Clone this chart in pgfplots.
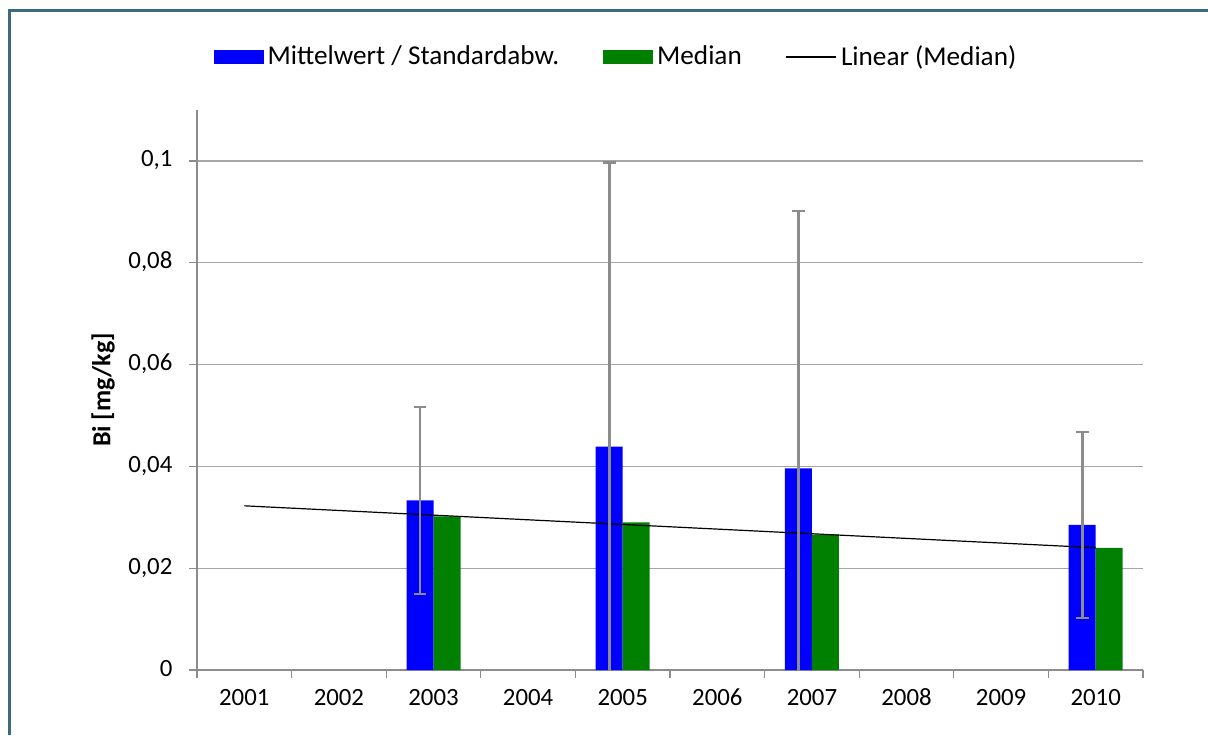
\documentclass[border=0pt]{standalone}
\usepackage{fontspec}
\setmainfont{Carlito}
\usepackage{pgfplots}
\pgfplotsset{compat=1.18}
\definecolor{framec}{HTML}{3D6A7F}
\definecolor{gridc}{HTML}{A6A6A6}
\definecolor{errc}{HTML}{8C8C8C}
\definecolor{axc}{HTML}{8C8C8C}
\definecolor{barblue}{HTML}{0000FF}
\definecolor{bargreen}{HTML}{008000}
\begin{document}
\fontsize{12.4}{15}\selectfont
\begin{tikzpicture}
\useasboundingbox (0,0) rectangle (604pt,367.5pt);
\fill[white] (0,0) rectangle (604pt,367.5pt);
\draw[framec, line width=1.5pt] (4.5pt,0) -- (4.5pt,362pt) -- (604pt,362pt);
\begin{axis}[
  at={(98.5pt,32.5pt)}, anchor=south west,
  scale only axis, width=473pt, height=280pt,
  xmin=-0.5, xmax=9.5, ymin=0, ymax=0.11,
  axis x line*=bottom, axis y line*=left,
  axis line style={axc, line width=0.6pt},
  tick align=outside, major tick length=4pt,
  tick style={axc, line width=0.6pt},
  xtick={-0.5,0.5,1.5,2.5,3.5,4.5,5.5,6.5,7.5,8.5,9.5},
  xticklabels={2001,2002,2003,2004,2005,2006,2007,2008,2009,2010},
  x tick label as interval,
  typeset ticklabels with strut,
  xticklabel style={yshift=1pt},
  ytick={0,0.02,0.04,0.06,0.08,0.1},
  scaled y ticks=false,
  yticklabel style={xshift=-4pt, /pgf/number format/.cd, use comma, fixed, precision=2, assume math mode=true},
  ymajorgrids, grid style={gridc, line width=0.6pt},
  ylabel={\fontsize{13}{15}\selectfont\textbf{Bi [mg/kg]}},
  every axis y label/.style={at={(axis description cs:-0.0994,0.5)}, rotate=90, anchor=center},
  legend style={draw=none, fill=none, legend columns=3, at={(0.444,1.0946)}, anchor=center,
    font=\fontsize{13.6}{16}\selectfont,
    /tikz/every even column/.append style={column sep=20pt},
    nodes={inner xsep=2pt}},
]
\addplot[ybar, bar width=13.5pt, bar shift=-6.75pt, fill=barblue, draw=none,
  legend image code/.code={\fill[barblue] (0pt,-3.5pt) rectangle (25pt,3.5pt);}]
  table[x=x, y=y] {
x y
2 0.0333
4 0.0439
6 0.0396
9 0.0285
};
\addlegendentry{Mittelwert / Standardabw.}
\addplot[ybar, bar width=13.5pt, bar shift=6.75pt, fill=bargreen, draw=none,
  legend image code/.code={\fill[bargreen] (0pt,-3.5pt) rectangle (25pt,3.5pt);}]
  table[x=x, y=y] {
x y
2 0.0302
4 0.0290
6 0.0266
9 0.0240
};
\addlegendentry{Median}
\addplot[black, line width=0.6pt, no marks,
  legend image code/.code={\draw[black, line width=0.6pt] (0pt,0pt) -- (25pt,0pt);}]
  coordinates {(0,0.03225) (9,0.02402)};
\addlegendentry{Linear (Median)}
% error bars of the mean, at the centre of the blue bars (shift -6.75pt = -0.1427 units)
\addplot[draw=none, mark=none, forget plot,
  error bars/.cd, y dir=both, y explicit,
  error bar style={errc, line width=1.3pt},
  error mark options={errc, draw=errc, line width=1.2pt, mark size=3.2pt, rotate=90}]
  table[x=x, y=y, y error=e] {
x y e
1.8573 0.0333 0.0184
3.8573 0.0439 0.0558
5.8573 0.0396 0.0506
8.8573 0.0285 0.0183
};
\end{axis}
\end{tikzpicture}
\end{document}
